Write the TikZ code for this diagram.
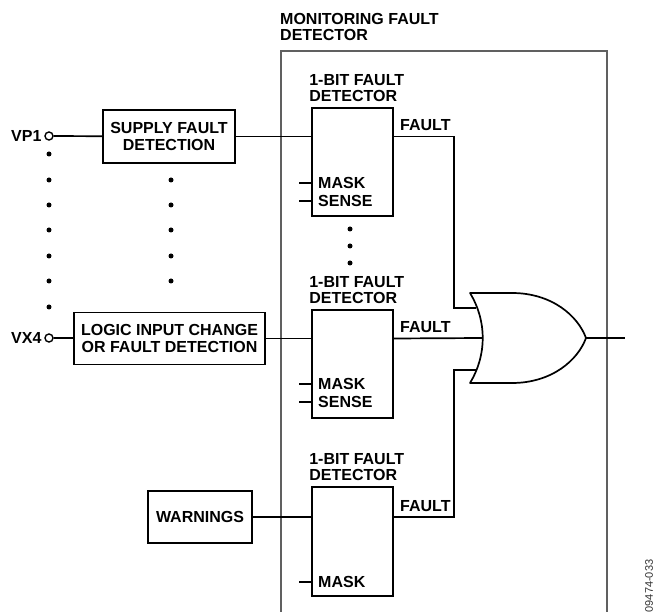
\documentclass[tikz,border=0pt]{standalone}
\usepackage{fontspec}
\setmainfont{Liberation Sans}
\usetikzlibrary{positioning}

\begin{document}
\begin{tikzpicture}[x=1pt,y=-1pt,
    txt/.style={font=\fontsize{16}{16.5}\selectfont\bfseries, inner sep=0pt, align=left},
    blk/.style={draw, line width=1.7pt, font=\fontsize{16}{16.5}\selectfont\bfseries, align=center, inner sep=0pt},
    wire/.style={line width=1.7pt},
    dot/.style={circle, fill, inner sep=0pt, minimum size=5pt},
    pin/.style={circle, draw, line width=1.4pt, inner sep=0pt, minimum size=8pt, fill=white}]
  \useasboundingbox (0,0) rectangle (654,612);
  % monitoring block outline
  \draw[gray!75!black, line width=2pt] (281,630) -- (281,51) -- (607,51) -- (607,630);
  \node[txt, anchor=south west] (title) at (280,41) {MONITORING FAULT\\DETECTOR};

  % inputs
  \node[pin] (vp1) at (49,136) {};
  \node[txt, anchor=east] (vp1lbl) at (vp1.west) {VP1\,};
  \node[pin] (vx4) at (49,338) {};
  \node[txt, anchor=east] (vx4lbl) at (vx4.west) {VX4\,};
  \node[blk, minimum width=132pt, minimum height=53pt] (supply) at (169,136.5) {SUPPLY FAULT\\DETECTION};
  \node[blk, minimum width=191pt, minimum height=52pt] (logic) at (169.5,338.5) {LOGIC INPUT CHANGE\\OR FAULT DETECTION};
  \node[blk, minimum width=104pt, minimum height=52pt] (warn) at (200,517) {WARNINGS};
  \foreach \y in {154,180,205,230,256,281,307} \node[dot] (l\y) at (49,\y) {};
  \foreach \y in {180,205,230,256,281} \node[dot] (m\y) at (171,\y) {};
  \foreach \y in {229,246,263} \node[dot] (d\y) at (350,\y) {};

  % 1-bit fault detectors
  \node[draw, line width=1.7pt, minimum width=81pt, minimum height=108pt, inner sep=0pt] (det1) at (352.5,162) {};
  \node[draw, line width=1.7pt, minimum width=81pt, minimum height=108pt, inner sep=0pt] (det2) at (352.5,364) {};
  \node[draw, line width=1.7pt, minimum width=81pt, minimum height=109pt, inner sep=0pt] (det3) at (352.5,541.5) {};
  \foreach \d in {det1,det2,det3}
    \node[txt, anchor=south west] (\d lbl) at ([xshift=-2pt,yshift=5pt]\d.north west) {1-BIT FAULT\\DETECTOR};
  \node[txt, anchor=west] (mask1) at (318,183) {MASK};
  \node[txt, anchor=west] (sense1) at (318,201) {SENSE};
  \node[txt, anchor=west] (mask2) at (318,384) {MASK};
  \node[txt, anchor=west] (sense2) at (318,402) {SENSE};
  \node[txt, anchor=west] (mask3) at (318,582) {MASK};
  \foreach \m in {mask1,sense1,mask2,sense2,mask3}
    \draw[wire] (det1.west |- \m.west) -- ++(-12,0);
  \node[txt, anchor=west] (f1) at (400,125) {FAULT};
  \node[txt, anchor=west] (f2) at (400,327) {FAULT};
  \node[txt, anchor=west] (f3) at (400,506) {FAULT};

  % OR gate
  \draw[wire, line join=round] (470,293) -- (512,293) .. controls (552,293) and (578,316) .. (586,338)
    .. controls (578,360) and (552,383) .. (512,383) -- (470,383)
    .. controls (487,355) and (487,321) .. cycle;
  \coordinate (or1) at (476,308);
  \coordinate (or2) at (482,338);
  \coordinate (or3) at (476,370);
  \coordinate (orout) at (586,338);
  \coordinate (out) at (625,338);
  \coordinate (j1) at (454,308);
  \coordinate (j3) at (454,370);

  % wires
  \draw[wire] (vp1) -- (supply);
  \draw[wire] (vx4) -- (logic);
  \draw[wire] (supply.east) -- (supply.east -| det1.west);
  \draw[wire] (logic.east) -- (logic.east -| det2.west);
  \draw[wire] (warn.east) -- (warn.east -| det3.west);
  \draw[wire] (det1.east |- supply.east) -| (j1) -- (or1);
  \draw[wire] (det2.east |- logic.east) -- (or2);
  \draw[wire] (det3.east |- warn.east) -| (j3) -- (or3);
  \draw[wire] (orout) -- (out);

  \node[rotate=90, font=\fontsize{11}{11}\selectfont, text=black!80] (code) at (649,586) {09474-033};
\end{tikzpicture}
\end{document}
